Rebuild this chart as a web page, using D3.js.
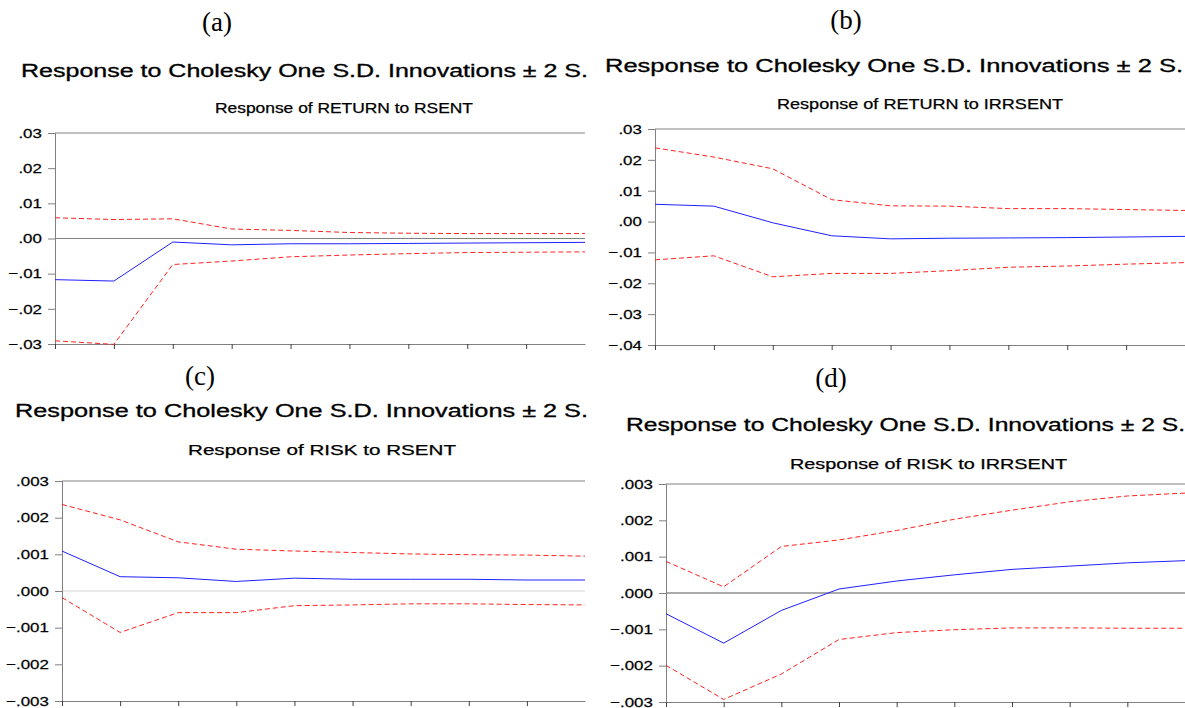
<!DOCTYPE html>
<html>
<head>
<meta charset="utf-8">
<script src="https://cdn.jsdelivr.net/npm/d3@7"></script>
<style>
  body { margin: 0; background: #fff; }
  svg { display: block; }
</style>
</head>
<body>
<script>
// periods of the impulse response
var periods = [1, 2, 3, 4, 5, 6, 7, 8, 9, 10];

// (a) Response of RETURN to RSENT
var retRsent    = [-0.0117, -0.0121, -0.0010, -0.0018, -0.0015, -0.0015, -0.0014, -0.0013, -0.0012, -0.0011];
var retRsentUp  = [0.0059, 0.0054, 0.0056, 0.0027, 0.0023, 0.0017, 0.0015, 0.0014, 0.0014, 0.0014];
var retRsentLo  = [-0.0291, -0.0301, -0.0074, -0.0064, -0.0052, -0.0047, -0.0043, -0.0040, -0.0039, -0.0038];

// (b) Response of RETURN to IRRSENT
var retIrr      = [0.0056, 0.0050, -0.0004, -0.0046, -0.0056, -0.0054, -0.0053, -0.0052, -0.0050, -0.0048];
var retIrrUp    = [0.0239, 0.0209, 0.0171, 0.0071, 0.0051, 0.0050, 0.0042, 0.0042, 0.0039, 0.0036];
var retIrrLo    = [-0.0124, -0.0111, -0.0179, -0.0168, -0.0168, -0.0159, -0.0148, -0.0144, -0.0138, -0.0133];

// (c) Response of RISK to RSENT
var riskRsent   = [0.00109, 0.00039, 0.00036, 0.00026, 0.00035, 0.00032, 0.00032, 0.00032, 0.00030, 0.00030];
var riskRsentUp = [0.00236, 0.00194, 0.00134, 0.00114, 0.00109, 0.00105, 0.00101, 0.00099, 0.00098, 0.00095];
var riskRsentLo = [-0.00018, -0.00113, -0.00059, -0.00059, -0.00040, -0.00038, -0.00035, -0.00035, -0.00037, -0.00038];

// (d) Response of RISK to IRRSENT
var riskIrr     = [-0.00057, -0.00138, -0.00048, 0.00011, 0.00033, 0.00050, 0.00065, 0.00074, 0.00083, 0.00089];
var riskIrrUp   = [0.00087, 0.00017, 0.00128, 0.00146, 0.00172, 0.00203, 0.00228, 0.00251, 0.00267, 0.00275];
var riskIrrLo   = [-0.00199, -0.00293, -0.00223, -0.00128, -0.00109, -0.00101, -0.00096, -0.00096, -0.00097, -0.00097];

// y tick values
var ticksA = [-0.03, -0.02, -0.01, 0.00, 0.01, 0.02, 0.03];
var ticksB = [-0.04, -0.03, -0.02, -0.01, 0.00, 0.01, 0.02, 0.03];
var ticksC = [-0.003, -0.002, -0.001, 0.000, 0.001, 0.002, 0.003];

var mainTitle = "Response to Cholesky One S.D. Innovations \u00b1 2 S.";
var panelLetters = ["(a)", "(b)", "(c)", "(d)"];
var subTitles = ["Response of RETURN to RSENT", "Response of RETURN to IRRSENT",
                 "Response of RISK to RSENT", "Response of RISK to IRRSENT"];

var svg = d3.select("body").append("svg")
    .attr("width", 1185)
    .attr("height", 708);

var sansFont = "'Liberation Sans', Arial, sans-serif";

var panels = [
    { mid: retRsent, up: retRsentUp, lo: retRsentLo, ticks: ticksA, digits: 2,
      x0: 55, x1: 585, yTop: 133, yBot: 344,
      letter: [217, 31], main: [21, 77, 567], sub: [215, 113, 258],
      zero: { color: "#808080", width: 1 } },
    { mid: retIrr, up: retIrrUp, lo: retIrrLo, ticks: ticksB, digits: 2,
      x0: 655, x1: 1185, yTop: 129, yBot: 345,
      letter: [846, 29], main: [605, 72, 578], sub: [777, 109, 286],
      zero: null },
    { mid: riskRsent, up: riskRsentUp, lo: riskRsentLo, ticks: ticksC, digits: 3,
      x0: 62, x1: 585, yTop: 481, yBot: 701,
      letter: [200, 385], main: [15, 417, 573], sub: [188, 455, 268],
      zero: { color: "#e2e2e2", width: 1.5 } },
    { mid: riskIrr, up: riskIrrUp, lo: riskIrrLo, ticks: ticksC, digits: 3,
      x0: 666, x1: 1185, yTop: 484, yBot: 702,
      letter: [831, 387], main: [626, 431, 559], sub: [790, 469, 277],
      zero: { color: "#aaaaaa", width: 2 } }
];

function fmtTick(digits) {
    var f = d3.format("." + digits + "f");
    return function (d) {
        return f(d).replace("0.", ".");
    };
}

panels.forEach(function (p, i) {
    var g = svg.append("g");

    var x = d3.scaleLinear()
        .domain([periods[0], periods[periods.length - 1]])
        .range([p.x0, p.x1]);

    var y = d3.scaleLinear()
        .domain([p.ticks[0], p.ticks[p.ticks.length - 1]])
        .range([p.yBot, p.yTop]);

    // headings
    g.append("text")
        .attr("x", p.letter[0])
        .attr("y", p.letter[1])
        .attr("text-anchor", "middle")
        .style("font-family", "'Liberation Serif', 'Times New Roman', serif")
        .style("font-size", "27px")
        .text(panelLetters[i]);

    g.append("text")
        .attr("x", p.main[0])
        .attr("y", p.main[1])
        .attr("textLength", p.main[2])
        .attr("lengthAdjust", "spacingAndGlyphs")
        .attr("stroke", "#000")
        .attr("stroke-width", 0.3)
        .style("font-family", sansFont)
        .style("font-size", "17.5px")
        .text(mainTitle);

    g.append("text")
        .attr("x", p.sub[0])
        .attr("y", p.sub[1])
        .attr("textLength", p.sub[2])
        .attr("lengthAdjust", "spacingAndGlyphs")
        .attr("stroke", "#000")
        .attr("stroke-width", 0.25)
        .style("font-family", sansFont)
        .style("font-size", "14px")
        .text(subTitles[i]);

    // zero line
    if (p.zero) {
        g.append("line")
            .attr("x1", p.x0).attr("x2", p.x1)
            .attr("y1", y(0)).attr("y2", y(0))
            .attr("stroke", p.zero.color)
            .attr("stroke-width", p.zero.width);
    }

    // top frame
    g.append("line")
        .attr("x1", p.x0).attr("x2", p.x1)
        .attr("y1", p.yTop).attr("y2", p.yTop)
        .attr("stroke", "#808080");

    // axes
    var leftAxis = d3.axisLeft(y)
        .tickValues(p.ticks)
        .tickSize(7)
        .tickFormat(fmtTick(p.digits));

    var ax = g.append("g")
        .attr("transform", "translate(" + p.x0 + ",0)")
        .call(leftAxis);
    ax.select(".domain").attr("stroke", "#808080");
    ax.selectAll(".tick line").attr("stroke", "#808080");
    ax.selectAll("text")
        .attr("x", -10.5)
        .attr("transform", "scale(1.25,1)")
        .attr("fill", "#000")
        .attr("stroke", "#000")
        .attr("stroke-width", 0.25)
        .style("font-family", sansFont)
        .style("font-size", "13.5px");

    var bottomAxis = d3.axisBottom(x)
        .tickValues(periods.slice(0, periods.length - 1))
        .tickSize(5)
        .tickSizeOuter(0)
        .tickFormat("");

    var bx = g.append("g")
        .attr("transform", "translate(0," + p.yBot + ")")
        .call(bottomAxis);
    bx.select(".domain").attr("stroke", "#808080");
    bx.selectAll(".tick line").attr("stroke", "#404040");

    // response lines
    var line = d3.line()
        .x(function (d, k) { return x(periods[k]); })
        .y(function (d) { return y(d); });

    [p.up, p.lo].forEach(function (band) {
        g.append("path")
            .attr("d", line(band))
            .attr("fill", "none")
            .attr("stroke", "#ff2020")
            .attr("stroke-width", 1)
            .attr("stroke-dasharray", "5,3");
    });

    g.append("path")
        .attr("d", line(p.mid))
        .attr("fill", "none")
        .attr("stroke", "#2020ff")
        .attr("stroke-width", 1);
});
</script>
</body>
</html>
